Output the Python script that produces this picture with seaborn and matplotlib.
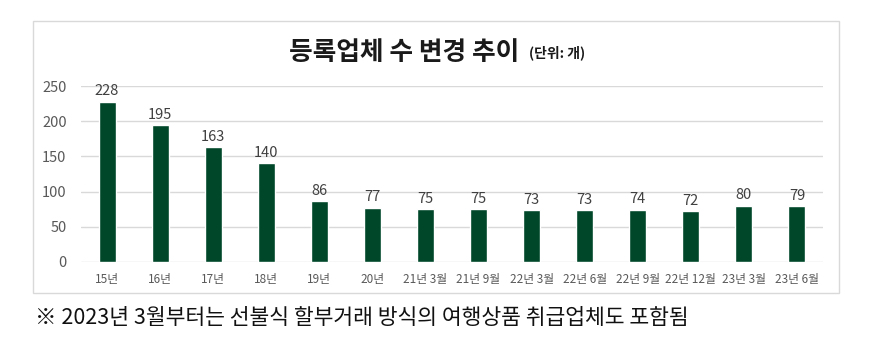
import matplotlib
matplotlib.use("Agg")
import matplotlib.pyplot as plt
import seaborn as sns
import pandas as pd
from matplotlib.patches import Rectangle

categories = ["15년", "16년", "17년", "18년", "19년", "20년", "21년 3월", "21년 9월",
              "22년 3월", "22년 6월", "22년 9월", "22년 12월", "23년 3월", "23년 6월"]
values = [228, 195, 163, 140, 86, 77, 75, 75, 73, 73, 74, 72, 80, 79]
yticks = [0, 50, 100, 150, 200, 250]

title_main = "등록업체 수 변경 추이"
title_unit = "(단위: 개)"
footnote = "※ 2023년 3월부터는 선불식 할부거래 방식의 여행상품 취급업체도 포함됨"

sns.set_theme(style="white")
plt.rcParams["font.family"] = ["Noto Sans CJK KR", "DejaVu Sans"]

W, H = 875, 337
fig = plt.figure(figsize=(W / 100, H / 100), dpi=100)
fig.patch.set_facecolor("white")

# chart frame
fig.add_artist(Rectangle((33 / W, 1 - 293 / H), (839 - 33) / W, (293 - 21) / H,
                         transform=fig.transFigure, fill=False,
                         edgecolor="#d9d9d9", linewidth=1.0))

ax = fig.add_axes([80.5 / W, 1 - 261.5 / H, (823.5 - 80.5) / W, (261.5 - 86.5) / H])
df = pd.DataFrame({"cat": categories, "val": values})
sns.barplot(data=df, x="cat", y="val", color="#004628", width=0.32,
            saturation=1, ax=ax)
for c in ax.containers:
    ax.bar_label(c, padding=2.5, fontsize=10.5, color="#404040")

ax.set_xlim(-0.5, len(categories) - 0.5)
ax.set_ylim(0, 250)
ax.set_yticks(yticks)
ax.set_xlabel("")
ax.set_ylabel("")
ax.yaxis.grid(True, color="#d9d9d9", linewidth=1.0)
ax.set_axisbelow(True)
for s in ax.spines.values():
    s.set_visible(False)
ax.tick_params(axis="y", length=0, pad=10, labelsize=10.5, labelcolor="#595959")
ax.tick_params(axis="x", length=0, pad=8, labelsize=8.5, labelcolor="#595959")

# title: main part + unit, placed side by side and centred as a group
t1 = fig.text(0, 1 - 52 / H, title_main, fontsize=18.5, fontweight="bold",
              color="#1a1a1a", ha="left", va="center")
t2 = fig.text(0, 1 - 53 / H, title_unit, fontsize=10, fontweight="bold",
              color="#1a1a1a", ha="left", va="center")
fig.canvas.draw()
r = fig.canvas.get_renderer()
w1 = t1.get_window_extent(r).width
w2 = t2.get_window_extent(r).width
gap = 9
start = 437 - (w1 + gap + w2) / 2
t1.set_x(start / W)
t2.set_x((start + w1 + gap) / W)

fig.text(35 / W, 1 - 318 / H, footnote, fontsize=15.5, color="#111111",
         ha="left", va="center")

fig.savefig("out.png", dpi=100, facecolor="white")
